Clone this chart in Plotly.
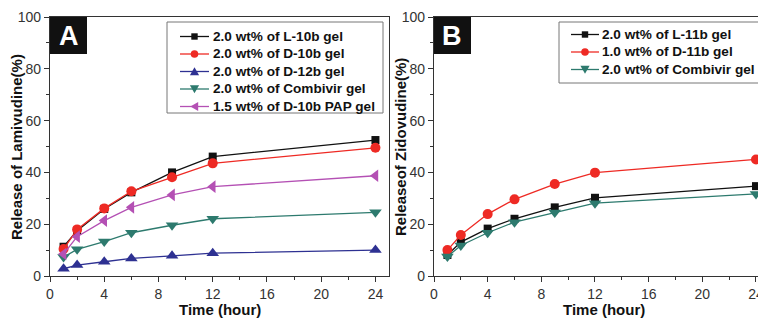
import plotly.graph_objects as go

# ---------------- data ----------------
time_a = [1, 2, 4, 6, 9, 12, 24]
l10b = [11.3, 17.5, 25.9, 32.3, 40.0, 46.1, 52.5]
d10b = [10.4, 18.0, 26.1, 32.7, 38.1, 43.5, 49.5]
d12b = [2.8, 4.2, 5.5, 6.8, 7.8, 8.8, 10.0]
combivir_a = [7.3, 10.3, 13.3, 16.7, 19.6, 22.1, 24.6]
d10b_pap = [8.5, 15.2, 21.4, 26.5, 31.3, 34.5, 38.7]

time_b = [1, 2, 4, 6, 9, 12, 24]
l11b = [8.1, 13.1, 18.3, 22.1, 26.5, 30.2, 34.7]
d11b = [10.0, 15.8, 23.9, 29.6, 35.5, 39.9, 45.0]
combivir_b = [7.5, 11.8, 16.7, 20.8, 24.5, 28.1, 31.7]

names_a = ["2.0 wt% of L-10b gel", "2.0 wt% of D-10b gel", "2.0 wt% of D-12b gel",
           "2.0 wt% of Combivir gel", "1.5 wt% of D-10b PAP gel"]
names_b = ["2.0 wt% of L-11b gel", "1.0 wt% of D-11b gel", "2.0 wt% of Combivir gel"]

x_ticks = [0, 4, 8, 12, 16, 20, 24]
y_ticks = [0, 20, 40, 60, 80, 100]

# ---------------- styles ----------------
BLACK = "#111111"
RED = "#ee2a24"
BLUE = "#2e3192"
TEAL = "#2d7a6e"
MAGENTA = "#b450b4"

W, H = 758, 320
FONT = "Arial, Liberation Sans, sans-serif"


def px_x(p):
    return p / W


def px_y(p):
    return (H - p) / H


fig = go.Figure()

series_a = [
    (l10b, names_a[0], BLACK, "square", 8),
    (d10b, names_a[1], RED, "circle", 10),
    (d12b, names_a[2], BLUE, "triangle-up", 11),
    (combivir_a, names_a[3], TEAL, "triangle-down", 11),
    (d10b_pap, names_a[4], MAGENTA, "triangle-left", 11),
]
for ys, nm, col, sym, sz in series_a:
    fig.add_trace(go.Scatter(
        x=time_a, y=ys, name=nm, mode="lines+markers",
        line=dict(color=col, width=1.3),
        marker=dict(symbol=sym, size=sz, color=col),
        xaxis="x", yaxis="y", showlegend=False))

series_b = [
    (l11b, names_b[0], BLACK, "square", 8),
    (d11b, names_b[1], RED, "circle", 10),
    (combivir_b, names_b[2], TEAL, "triangle-down", 11),
]
for ys, nm, col, sym, sz in series_b:
    fig.add_trace(go.Scatter(
        x=time_b, y=ys, name=nm, mode="lines+markers",
        line=dict(color=col, width=1.3),
        marker=dict(symbol=sym, size=sz, color=col),
        xaxis="x2", yaxis="y2", showlegend=False))

AX = "#333333"
tickfont = dict(family=FONT, size=14, color="#333333")

common_x = dict(
    tickmode="array", tickvals=x_ticks, ticktext=[str(t) for t in x_ticks],
    ticks="outside", ticklen=5, tickcolor=AX, tickwidth=1.2,
    showline=True, linecolor=AX, linewidth=1.3, automargin=False,
    ticklabeloverflow="allow",
    showgrid=False, zeroline=False, tickfont=tickfont,
    minor=dict(ticks="outside", dtick=2, tick0=0, ticklen=3, tickcolor=AX, showgrid=False),
)
common_y = dict(
    tickmode="array", tickvals=y_ticks, ticktext=[str(t) for t in y_ticks],
    ticks="outside", ticklen=5, tickcolor=AX, tickwidth=1.2,
    showline=True, linecolor=AX, linewidth=1.3, automargin=False,
    showgrid=False, zeroline=False, tickfont=tickfont, range=[0, 100],
    minor=dict(ticks="outside", dtick=10, tick0=0, ticklen=3, tickcolor=AX, showgrid=False),
)

ydom = [px_y(276), px_y(17)]

fig.update_layout(
    width=W, height=H,
    margin=dict(l=0, r=0, t=0, b=0, autoexpand=False),
    paper_bgcolor="white", plot_bgcolor="white",
    font=dict(family=FONT, color="#111111"),
    xaxis=dict(domain=[px_x(50), px_x(389)], range=[0, 25], anchor="y", mirror=True, **common_x),
    yaxis=dict(domain=ydom, anchor="x", mirror=True, **common_y),
    xaxis2=dict(domain=[px_x(434), 1.0], range=[0, 24.15], anchor="y2", mirror=True, **common_x),
    yaxis2=dict(domain=ydom, anchor="x2", mirror=False, **common_y),
    showlegend=False,
)


# ---------------- legends (drawn as shapes + text) ----------------
def marker_shape(cx, cy, sym, col):
    if sym == "square":
        r = 3.2
        fig.add_shape(type="rect", xref="paper", yref="paper",
                      x0=px_x(cx - r), x1=px_x(cx + r), y0=px_y(cy + r), y1=px_y(cy - r),
                      fillcolor=col, line=dict(width=0))
    elif sym == "circle":
        r = 3.8
        fig.add_shape(type="circle", xref="paper", yref="paper",
                      x0=px_x(cx - r), x1=px_x(cx + r), y0=px_y(cy + r), y1=px_y(cy - r),
                      fillcolor=col, line=dict(width=0))
    else:
        r = 4.6
        if sym == "triangle-up":
            pts = [(cx - r, cy + r * 0.8), (cx + r, cy + r * 0.8), (cx, cy - r * 0.9)]
        elif sym == "triangle-down":
            pts = [(cx - r, cy - r * 0.8), (cx + r, cy - r * 0.8), (cx, cy + r * 0.9)]
        else:  # triangle-left
            pts = [(cx + r * 0.8, cy - r), (cx + r * 0.8, cy + r), (cx - r * 0.9, cy)]
        path = "M " + " L ".join(f"{px_x(x):.5f},{px_y(y):.5f}" for x, y in pts) + " Z"
        fig.add_shape(type="path", xref="paper", yref="paper", path=path,
                      fillcolor=col, line=dict(width=0))


def draw_legend(box, rows, entries, lx0, lx1, tx):
    bx0, by0, bx1, by1 = box
    fig.add_shape(type="rect", xref="paper", yref="paper",
                  x0=px_x(bx0), x1=px_x(bx1), y0=px_y(by1), y1=px_y(by0),
                  fillcolor="white", line=dict(color="#777777", width=1))
    for yc, (nm, col, sym) in zip(rows, entries):
        fig.add_shape(type="line", xref="paper", yref="paper",
                      x0=px_x(lx0), x1=px_x(lx1), y0=px_y(yc), y1=px_y(yc),
                      line=dict(color=col, width=1.3))
        marker_shape((lx0 + lx1) / 2, yc, sym, col)
        fig.add_annotation(xref="paper", yref="paper", x=px_x(tx), y=px_y(yc),
                           text=nm, showarrow=False, xanchor="left", yanchor="middle",
                           font=dict(family=FONT, size=13.6, color="#111111", weight="bold"))


draw_legend((167, 22, 383, 113), [36.5, 54, 71.5, 89, 106.5],
            [(s[1], s[2], s[3]) for s in series_a], 180, 209, 211)
draw_legend((559, 22, 770, 83), [34.5, 52, 69.5],
            [(s[1], s[2], s[3]) for s in series_b], 571, 599, 600)

# panel letter boxes
for x0, x1, letter in [(50, 87, "A"), (434, 471, "B")]:
    fig.add_shape(type="rect", xref="paper", yref="paper",
                  x0=px_x(x0), x1=px_x(x1), y0=px_y(54), y1=px_y(17),
                  fillcolor="#111111", line=dict(width=0))
    fig.add_annotation(xref="paper", yref="paper", x=px_x((x0 + x1) / 2), y=px_y(36),
                       text=letter, showarrow=False, xanchor="center", yanchor="middle",
                       font=dict(family=FONT, size=27, color="white", weight="bold"))

title_font = dict(family=FONT, size=15, color="#111111", weight="bold")
# x titles
for cx in [220, 604]:
    fig.add_annotation(xref="paper", yref="paper", x=px_x(cx), y=px_y(309),
                       text="Time (hour)", showarrow=False, xanchor="center", yanchor="middle",
                       font=title_font)
# y titles
for cx, txt in [(16, "Release of Lamivudine(%)"), (400, "Releaseof Zidovudine(%)")]:
    fig.add_annotation(xref="paper", yref="paper", x=px_x(cx), y=px_y(147),
                       text=txt, showarrow=False, xanchor="center", yanchor="middle",
                       textangle=-90, font=title_font)

fig.write_html("out.html", post_script="document.body.style.margin='0';",
               config={"displayModeBar": False})
